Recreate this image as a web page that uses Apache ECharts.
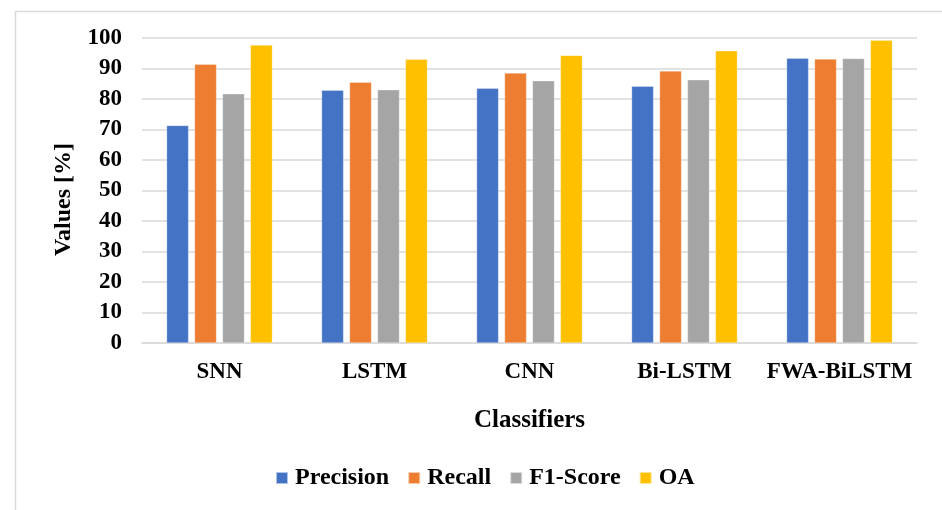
<!DOCTYPE html>
<html>
<head>
<meta charset="utf-8">
<script src="https://cdn.jsdelivr.net/npm/echarts@6/dist/echarts.min.js"></script>
<style>
html,body{margin:0;padding:0;background:#fff;}
#chart{width:942px;height:510px;}
</style>
</head>
<body>
<div id="chart"></div>
<script>
const categories = ['SNN', 'LSTM', 'CNN', 'Bi-LSTM', 'FWA-BiLSTM'];
const precision = [71.3, 82.9, 83.5, 84.2, 93.4];
const recall = [91.4, 85.5, 88.5, 89.2, 93.1];
const f1Score = [81.7, 83.0, 86.0, 86.3, 93.3];
const oa = [97.7, 93.0, 94.3, 95.8, 99.3];
const yTicks = [0, 10, 20, 30, 40, 50, 60, 70, 80, 90, 100];

const FONT = "'Liberation Serif', 'Times New Roman', serif";
const seriesDefs = [
  ['Precision', precision, '#4472C4'],
  ['Recall', recall, '#ED7D31'],
  ['F1-Score', f1Score, '#A5A5A5'],
  ['OA', oa, '#FFC000']
];

const chart = echarts.init(document.getElementById('chart'), null, {renderer: 'canvas'});
chart.setOption({
  animation: false,
  backgroundColor: '#fff',
  graphic: [{
    type: 'rect', left: 13, top: 9, silent: true,
    shape: {width: 1000, height: 600},
    style: {fill: 'none', stroke: '#d9d9d9', lineWidth: 1.5}
  }],
  grid: {left: 142, right: 25, top: 38, bottom: 167, containLabel: false},
  legend: {
    bottom: 15, left: 270,
    itemWidth: 12, itemHeight: 12, itemGap: 18,
    icon: 'rect',
    textStyle: {fontFamily: FONT, fontWeight: 'bold', fontSize: 24, color: '#000', padding: [0, 0, 0, 2]},
    data: seriesDefs.map(s => s[0])
  },
  xAxis: {
    type: 'category',
    data: categories,
    name: 'Classifiers',
    nameLocation: 'middle',
    nameGap: 65,
    nameTextStyle: {fontFamily: FONT, fontWeight: 'bold', fontSize: 25, color: '#000'},
    axisLine: {lineStyle: {color: '#d9d9d9', width: 1.5}},
    axisTick: {show: false},
    axisLabel: {interval: 0, fontFamily: FONT, fontWeight: 'bold', fontSize: 23, color: '#000', margin: 18}
  },
  yAxis: {
    type: 'value',
    min: yTicks[0], max: yTicks[yTicks.length - 1], interval: 10,
    name: 'Values [%]',
    nameLocation: 'middle',
    nameGap: 66,
    nameTextStyle: {fontFamily: FONT, fontWeight: 'bold', fontSize: 24, color: '#000', padding: [0, 0, 0, -18]},
    axisLine: {show: false},
    axisTick: {show: false},
    axisLabel: {fontFamily: FONT, fontWeight: 'bold', fontSize: 23, color: '#000', margin: 20},
    splitLine: {lineStyle: {color: '#d9d9d9', width: 1.5}}
  },
  series: seriesDefs.map(([name, data, color]) => ({
    name, type: 'bar', data,
    barWidth: 22, barGap: '27%',
    itemStyle: {color, borderColor: 'rgba(255,255,255,0.6)', borderWidth: 0.5}
  }))
});
</script>
</body>
</html>
